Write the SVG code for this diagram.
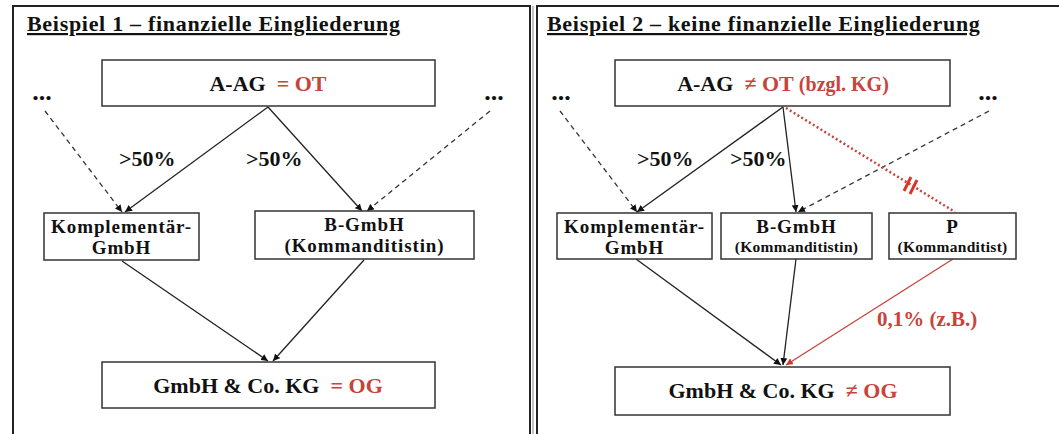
<svg xmlns="http://www.w3.org/2000/svg" width="1059" height="434" viewBox="0 0 1059 434">
<style>
  text { font-family: "Liberation Serif", "Times New Roman", serif; font-weight: bold; fill: #111; }
  .red { fill: #c8433a; }
  .title { font-size: 22px; letter-spacing: 0.7px; text-decoration: underline; }
  .big { font-size: 22px; }
  .mid { font-size: 19px; letter-spacing: 0.9px; }
  .lbl { font-size: 21px; }
  .sm { font-size: 15.5px; letter-spacing: 0.3px; }
  .dots { font-size: 26px; }
  .box { fill: #fff; stroke: #333; stroke-width: 1.5; }
  .panel { fill: #fff; stroke: #222; stroke-width: 2; }
  .solid { stroke: #222; stroke-width: 1.3; fill: none; }
  .dash { stroke: #333; stroke-width: 1.3; fill: none; stroke-dasharray: 5 4; }
  .redline { stroke: #c8433a; stroke-width: 1.3; fill: none; }
  .reddot { stroke: #c8433a; stroke-width: 2.5; fill: none; stroke-dasharray: 2 2.5; }
</style>
<defs>
  <marker id="ah" viewBox="0 0 10 10" refX="10" refY="5" markerWidth="7" markerHeight="7" orient="auto" markerUnits="userSpaceOnUse">
    <path d="M0,0 L10,5 L0,10 z" fill="#111"/>
  </marker>
  <marker id="ahr" viewBox="0 0 10 10" refX="10" refY="5" markerWidth="7" markerHeight="7" orient="auto" markerUnits="userSpaceOnUse">
    <path d="M0,0 L10,5 L0,10 z" fill="#d03a30"/>
  </marker>
</defs>
<rect width="1059" height="434" fill="#fff"/>
<g id="panel1">
  <rect class="panel" x="13" y="6" width="517" height="440"/>
  <text class="title" x="27" y="31">Beispiel 1 – finanzielle Eingliederung</text>
</g>
<g id="panel2">
  <rect class="panel" x="537" y="6" width="530" height="440"/>
  <line x1="533" y1="6" x2="533" y2="440" stroke="#888" stroke-width="1"/>
  <text class="title" x="547" y="31">Beispiel 2 – keine finanzielle Eingliederung</text>
</g>
<g id="connectors">
  <!-- panel 1 -->
  <line class="dash" x1="45" y1="111" x2="122" y2="212" marker-end="url(#ah)"/>
  <line class="dash" x1="490" y1="111" x2="367" y2="211" marker-end="url(#ah)"/>
  <line class="solid" x1="268" y1="107" x2="125" y2="212" marker-end="url(#ah)"/>
  <line class="solid" x1="268" y1="107" x2="362" y2="211" marker-end="url(#ah)"/>
  <line class="solid" x1="122" y1="261" x2="268" y2="361" marker-end="url(#ah)"/>
  <line class="solid" x1="364" y1="260" x2="273" y2="361" marker-end="url(#ah)"/>
  <text class="big" x="119" y="166">&gt;50%</text>
  <text class="big" x="246" y="166">&gt;50%</text>
  <!-- panel 2 -->
  <line class="dash" x1="560" y1="111" x2="637" y2="212" marker-end="url(#ah)"/>
  <line class="dash" x1="989" y1="111" x2="798" y2="212" marker-end="url(#ah)"/>
  <line class="solid" x1="783" y1="107" x2="637" y2="212" marker-end="url(#ah)"/>
  <line class="solid" x1="783" y1="107" x2="796" y2="212" marker-end="url(#ah)"/>
  <line class="reddot" x1="786" y1="108" x2="955" y2="212"/>
  <line x1="904" y1="191" x2="911" y2="177" stroke="#d8352b" stroke-width="3"/>
  <line x1="910" y1="194" x2="917" y2="180" stroke="#d8352b" stroke-width="3"/>
  <line class="solid" x1="636" y1="259" x2="781" y2="365" marker-end="url(#ah)"/>
  <line class="solid" x1="796" y1="259" x2="783" y2="365" marker-end="url(#ah)"/>
  <line class="redline" x1="953" y1="259" x2="786" y2="365" marker-end="url(#ahr)"/>
  <text class="big" x="637" y="166">&gt;50%</text>
  <text class="big" x="730" y="166">&gt;50%</text>
  <text class="lbl red" x="877" y="326">0,1% (z.B.)</text>
</g>
<g id="aag1">
  <rect class="box" x="102" y="60" width="333" height="46"/>
  <text class="big" x="268" y="91" text-anchor="middle" xml:space="preserve">A-AG  <tspan class="red">= OT</tspan></text>
</g>
<g id="dots1">
  <text class="dots" x="42" y="100" text-anchor="middle">...</text>
  <text class="dots" x="494" y="100" text-anchor="middle">...</text>
</g>
<g id="komp1">
  <rect class="box" x="44" y="213" width="155" height="47"/>
  <text class="mid" x="121.5" y="233" text-anchor="middle">Komplementär-</text>
  <text class="mid" x="121.5" y="254" text-anchor="middle">GmbH</text>
</g>
<g id="bgmbh1">
  <rect class="box" x="255" y="211" width="219" height="48"/>
  <text class="mid" x="364.5" y="231" text-anchor="middle">B-GmbH</text>
  <text class="mid" x="364.5" y="252" text-anchor="middle">(Kommanditistin)</text>
</g>
<g id="kg1">
  <rect class="box" x="102" y="362" width="333" height="46"/>
  <text class="big" x="268" y="393" text-anchor="middle" xml:space="preserve">GmbH &amp; Co. KG  <tspan class="red">= OG</tspan></text>
</g>
<g id="aag2">
  <rect class="box" x="615" y="60" width="335" height="46"/>
  <text class="big" x="783" y="91" text-anchor="middle" xml:space="preserve">A-AG  <tspan class="red">≠ OT <tspan style="font-size:20px">(bzgl. KG)</tspan></tspan></text>
</g>
<g id="dots2">
  <text class="dots" x="561" y="100" text-anchor="middle">...</text>
  <text class="dots" x="988" y="100" text-anchor="middle">...</text>
</g>
<g id="komp2">
  <rect class="box" x="557" y="213" width="155" height="46"/>
  <text class="mid" x="634.5" y="233" text-anchor="middle">Komplementär-</text>
  <text class="mid" x="634.5" y="254" text-anchor="middle">GmbH</text>
</g>
<g id="bgmbh2">
  <rect class="box" x="721" y="213" width="151" height="46"/>
  <text class="mid" x="796.5" y="233" text-anchor="middle">B-GmbH</text>
  <text class="sm" x="796.5" y="252" text-anchor="middle">(Kommanditistin)</text>
</g>
<g id="p">
  <rect class="box" x="889" y="213" width="127" height="46"/>
  <text class="mid" x="952.5" y="233" text-anchor="middle">P</text>
  <text class="sm" x="952.5" y="252" text-anchor="middle">(Kommanditist)</text>
</g>
<g id="kg2">
  <rect class="box" x="615" y="367" width="335" height="48"/>
  <text class="big" x="783" y="398" text-anchor="middle" xml:space="preserve">GmbH &amp; Co. KG  <tspan class="red">≠ OG</tspan></text>
</g>
</svg>
